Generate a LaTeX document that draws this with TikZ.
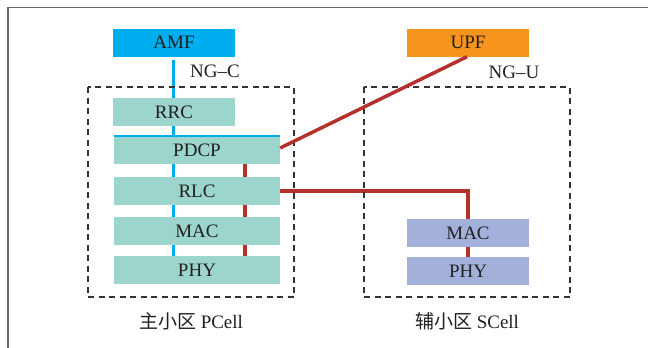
\documentclass[tikz,border=0pt]{standalone}
\usepackage{fontspec}
\setmainfont{Liberation Serif}
\newfontfamily\cjk{Noto Sans CJK SC}
\usetikzlibrary{backgrounds}
\definecolor{amfc}{HTML}{00AEEF}
\definecolor{upfc}{HTML}{F7941D}
\definecolor{tealc}{HTML}{9BD5CB}
\definecolor{lavc}{HTML}{A3B1DA}
\definecolor{redc}{HTML}{B5312D}
\definecolor{txtc}{HTML}{231F20}
\definecolor{dashc}{HTML}{333333}
\definecolor{framec}{HTML}{6A6A6A}
\tikzset{
  layer/.style={inner sep=0pt, minimum height=28pt, font=\fontsize{19}{19}\selectfont, text=txtc},
  shortbox/.style={layer, minimum width=122pt},
  longbox/.style={layer, minimum width=166pt},
  cellbox/.style={draw=dashc, line width=2pt, dash pattern=on 6pt off 4.5pt},
  lbl/.style={inner sep=0pt, font=\fontsize{19}{19}\selectfont, text=txtc},
  blueline/.style={draw=amfc, line width=3pt},
  redline/.style={draw=redc, line width=3.5pt},
}
\begin{document}
\begin{tikzpicture}[x=1pt, y=-1pt]
\useasboundingbox (0,0) rectangle (648,348);
% outer frame (top and left)
\draw[framec, line width=1.3pt] (648,7.5) -- (8,7.5) -- (8,348);
% dashed cell boxes
\draw[cellbox] (88,87) rectangle (294,297);
\draw[cellbox] (364,87) rectangle (570,297);
% boxes
\node[shortbox, fill=amfc] (amf) at (174,42.5) {AMF};
\node[shortbox, fill=upfc] (upf) at (468,42.5) {UPF};
\node[shortbox, fill=tealc] (rrc) at (174,112) {RRC};
\node[longbox, fill=tealc] (pdcp) at (197,150) {PDCP};
\node[longbox, fill=tealc] (rlc) at (197,191) {RLC};
\node[longbox, fill=tealc] (mac) at (197,231) {MAC};
\node[longbox, fill=tealc] (phy) at (197,270) {PHY};
\node[shortbox, fill=lavc] (smac) at (468,233) {MAC};
\node[shortbox, fill=lavc] (sphy) at (468,271) {PHY};
\draw[amfc, line width=1.5pt] (pdcp.north west) -- (pdcp.north east);
% labels
\node[lbl] (ngc) at (215,71) {NG–C};
\node[lbl] (ngu) at (514,72) {NG–U};
\node[lbl] (pcell) at (191,321) {{\cjk 主小区} PCell};
\node[lbl] (scell) at (467,321) {{\cjk 辅小区} SCell};
% connectors behind boxes
\coordinate (btop) at (173,60);
\coordinate (rtop) at (245,164);
\begin{pgfonlayer}{background}
\draw[blueline] (btop) -- (btop |- phy.north);
\draw[redline] (rtop) -- (rtop |- phy.north);
\draw[redline] (rlc.east) -| (sphy.north);
\end{pgfonlayer}
\draw[redline] ([yshift=2pt]pdcp.east) -- ([xshift=-1pt]upf.south);
\end{tikzpicture}
\end{document}
